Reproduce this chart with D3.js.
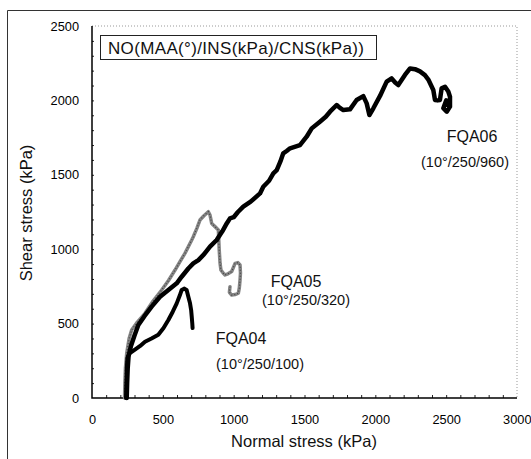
<!DOCTYPE html>
<html>
<head>
<meta charset="utf-8">
<script src="https://cdn.jsdelivr.net/npm/d3@7"></script>
<style>
  body { margin: 0; background: #fff; }
  text { font-family: Arial, "Liberation Sans", sans-serif; fill: #111; }
</style>
</head>
<body>
<svg id="chart"></svg>
<script>
// values (normal stress kPa, shear stress kPa)
const fqa04 = [[240,0],[243,100],[246,200],[250,270],[265,300],[303,325],[340,350],[374,378],[420,400],[468,425],[505,470],[539,524],[570,580],[598,636],[620,690],[633,726],[650,735],[668,726],[680,680],[692,636],[700,590],[704,546],[708,500],[710,470]];

const fqa05 = [[230,0],[232,100],[236,200],[245,300],[262,400],[280,457],[320,510],[374,569],[430,650],[492,726],[540,790],[586,860],[620,915],[656,972],[704,1062],[715,1084],[740,1140],[762,1196],[790,1225],[821,1252],[833,1230],[845,1173],[870,1150],[892,1129],[895,1060],[898,995],[904,905],[910,860],[927,838],[939,827],[960,835],[986,850],[1010,905],[1030,910],[1045,894],[1048,840],[1045,793],[1040,740],[1033,704],[1010,695],[986,692],[970,710],[974,748]];

const fqa06 = [[245,0],[248,100],[252,200],[258,280],[275,350],[300,420],[327,490],[370,550],[421,614],[480,680],[539,726],[598,771],[633,815],[680,870],[715,905],[751,927],[790,965],[833,1017],[880,1062],[920,1120],[951,1173],[974,1207],[1000,1215],[1030,1250],[1068,1286],[1120,1320],[1186,1375],[1209,1420],[1250,1460],[1280,1510],[1304,1532],[1330,1590],[1350,1644],[1374,1660],[1398,1678],[1468,1700],[1515,1756],[1551,1812],[1609,1857],[1650,1890],[1680,1924],[1727,1969],[1750,1950],[1774,1935],[1821,1940],[1868,2003],[1915,2029],[1939,1980],[1958,1902],[1986,1947],[2033,2030],[2080,2126],[2115,2148],[2140,2120],[2162,2103],[2209,2171],[2245,2215],[2280,2210],[2315,2195],[2350,2170],[2374,2140],[2409,2070],[2421,2003],[2440,2000],[2456,2003],[2468,2081],[2492,2092],[2515,2060],[2527,2025],[2527,1958],[2504,1924],[2480,1947],[2500,2000],[2510,1970]];

const xTicks = [0, 500, 1000, 1500, 2000, 2500, 3000];
const yTicks = [0, 500, 1000, 1500, 2000, 2500];
const legendText = "NO(MAA(°)/INS(kPa)/CNS(kPa))";

const width = 531, height = 459;
const svg = d3.select("#chart").attr("width", width).attr("height", height);

svg.append("rect").attr("width", width).attr("height", height).attr("fill", "#fff");

// outer frame (top + left visible)
svg.append("path")
    .attr("d", "M7.5," + height + "V10.5H" + width)
    .attr("fill", "none")
    .attr("stroke", "#333")
    .attr("stroke-width", 1);

const x = d3.scaleLinear().domain([0, 3000]).range([92, 517]);
const y = d3.scaleLinear().domain([0, 2500]).range([398, 26]);

// dotted top/right border of plot area
svg.append("path")
    .attr("d", "M" + x(0) + "," + y(2500) + "H" + x(3000) + "V" + y(0))
    .attr("fill", "none")
    .attr("stroke", "#999")
    .attr("stroke-width", 1)
    .attr("stroke-dasharray", "1,2");

// minor ticks
svg.append("g")
    .attr("transform", "translate(0," + y(0) + ")")
    .call(d3.axisBottom(x).tickValues(d3.range(100, 3000, 100)).tickSize(-3).tickFormat(""))
    .call(g => g.select(".domain").remove())
    .selectAll("line").attr("stroke", "#222");

svg.append("g")
    .attr("transform", "translate(" + x(0) + ",0)")
    .call(d3.axisLeft(y).tickValues(d3.range(100, 2500, 100)).tickSize(-2).tickFormat(""))
    .call(g => g.select(".domain").remove())
    .selectAll("line").attr("stroke", "#222");

// tick labels
const fmt = d3.format("d");
const xAxis = svg.append("g")
    .attr("transform", "translate(0," + y(0) + ")")
    .call(d3.axisBottom(x).tickValues(xTicks).tickFormat(fmt).tickSize(0).tickPadding(17));
xAxis.select(".domain").remove();
xAxis.selectAll("text").style("font-size", "12.8px").style("fill", "#000").attr("font-family", null);
xAxis.selectAll("text").filter(d => d === 3000).attr("text-anchor", "end").attr("dx", 14);

const yAxis = svg.append("g")
    .attr("transform", "translate(" + x(0) + ",0)")
    .call(d3.axisLeft(y).tickValues(yTicks).tickFormat(fmt).tickSize(0).tickPadding(13));
yAxis.select(".domain").remove();
yAxis.selectAll("text").style("font-size", "12.8px").style("fill", "#000").attr("font-family", null);

// solid left and bottom axis lines
svg.append("path")
    .attr("d", "M" + x(0) + "," + y(2500) + "V" + y(0) + "H" + x(3000))
    .attr("fill", "none")
    .attr("stroke", "#000")
    .attr("stroke-width", 1.5);

// curves
const line = d3.line().x(d => x(d[0])).y(d => y(d[1]));

svg.append("path").datum(fqa05)
    .attr("d", line)
    .attr("fill", "none")
    .attr("stroke", "#858585")
    .attr("stroke-width", 3.5)
    .attr("stroke-linejoin", "round")
    .attr("stroke-linecap", "round");
svg.append("path").datum(fqa05)
    .attr("d", line)
    .attr("fill", "none")
    .attr("stroke", "#444")
    .attr("stroke-width", 1.2)
    .attr("stroke-dasharray", "1,2");

svg.append("path").datum(fqa04)
    .attr("d", line)
    .attr("fill", "none")
    .attr("stroke", "#000")
    .attr("stroke-width", 4)
    .attr("stroke-linejoin", "round")
    .attr("stroke-linecap", "round");

svg.append("path").datum(fqa06)
    .attr("d", line)
    .attr("fill", "none")
    .attr("stroke", "#000")
    .attr("stroke-width", 4.5)
    .attr("stroke-linejoin", "round")
    .attr("stroke-linecap", "round");

// legend box
svg.append("rect")
    .attr("x", 100.5).attr("y", 35.5)
    .attr("width", 276).attr("height", 24)
    .attr("fill", "#fff")
    .attr("stroke", "#222")
    .attr("stroke-width", 1);
svg.append("text")
    .attr("x", 108).attr("y", 53.5)
    .style("font-size", "17px")
    .attr("textLength", 256)
    .text(legendText);

// curve labels
const labels = [
    {t: "FQA06", x: 472, y: 142, s: 16},
    {t: "(10°/250/960)", x: 465, y: 167, s: 14.5},
    {t: "FQA05", x: 296, y: 287, s: 16},
    {t: "(10°/250/320)", x: 306, y: 305, s: 14.5},
    {t: "FQA04", x: 241, y: 344, s: 16},
    {t: "(10°/250/100)", x: 260, y: 369, s: 14.5}
];
svg.selectAll(".lbl").data(labels).enter().append("text")
    .attr("class", "lbl")
    .attr("x", d => d.x).attr("y", d => d.y)
    .attr("text-anchor", "middle")
    .style("font-size", d => d.s + "px")
    .text(d => d.t);

// axis titles
svg.append("text")
    .attr("x", 304).attr("y", 447)
    .attr("text-anchor", "middle")
    .style("font-size", "16.5px")
    .text("Normal stress (kPa)");

svg.append("text")
    .attr("transform", "translate(32,213) rotate(-90)")
    .attr("text-anchor", "middle")
    .style("font-size", "16.5px")
    .text("Shear stress (kPa)");
</script>
</body>
</html>
